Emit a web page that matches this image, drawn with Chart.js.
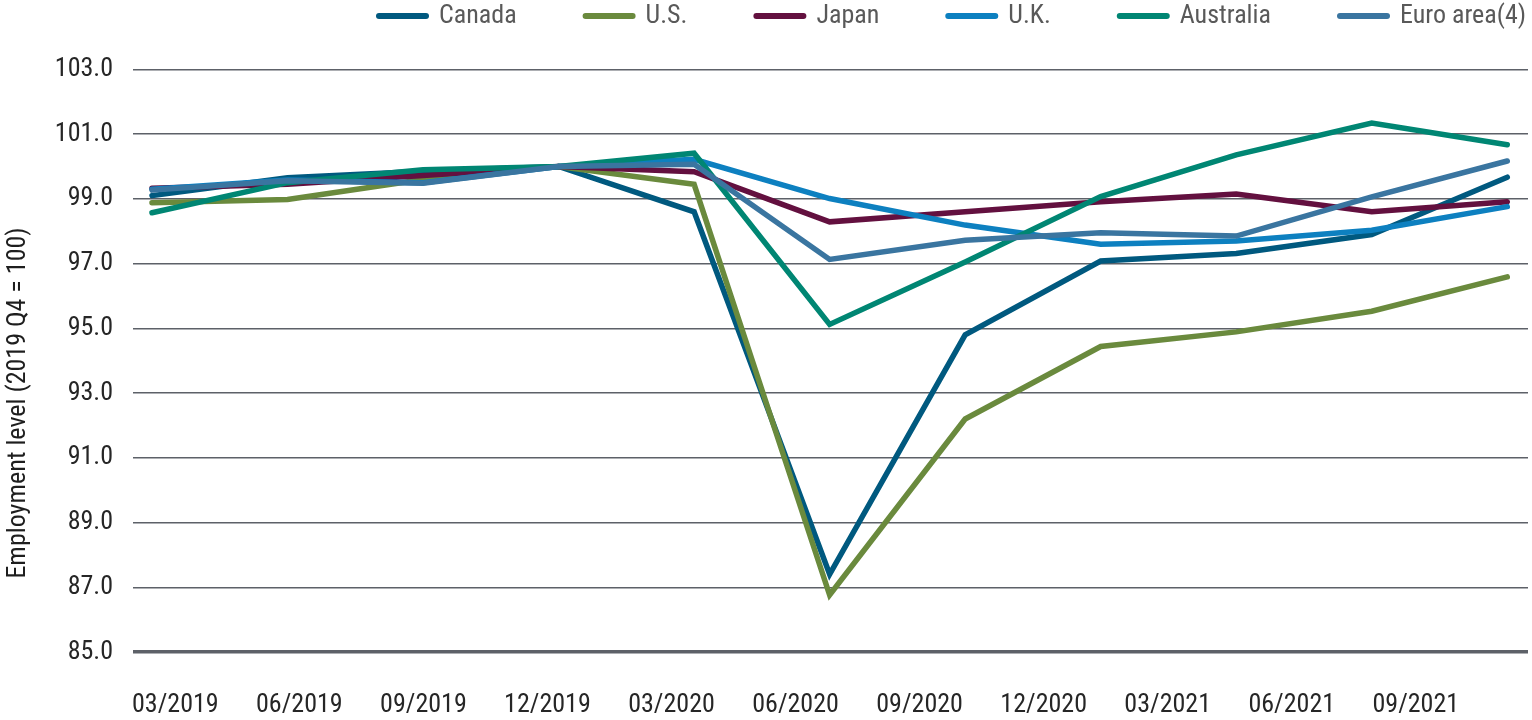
<!DOCTYPE html>
<html>
<head>
<meta charset="utf-8">
<script src="https://cdn.jsdelivr.net/npm/chart.js@4.4.1/dist/chart.umd.min.js"></script>
<style>
  html, body { margin: 0; padding: 0; background: #ffffff; }
  #wrap { width: 1532px; height: 720px; }
</style>
</head>
<body>
<div id="wrap"><canvas id="c" width="1532" height="720"></canvas></div>
<script>
// ---- data ----
const quarters = ['03/2019','06/2019','09/2019','12/2019','03/2020','06/2020','09/2020','12/2020','03/2021','06/2021','09/2021'];
const xTickLabels = ['03/2019','06/2019','09/2019','12/2019','03/2020','06/2020','09/2020','12/2020','03/2021','06/2021','09/2021'];
const yTicks = [85, 87, 89, 91, 93, 95, 97, 99, 101, 103];

const canada    = [99.10, 99.65, 99.85, 100.0, 98.60, 87.40, 94.80, 97.08, 97.31, 97.90, 99.67];
const us        = [98.88, 98.98, 99.60, 100.0, 99.45, 86.76, 92.20, 94.44, 94.89, 95.53, 96.59];
const japan     = [99.33, 99.45, 99.72, 100.0, 99.84, 98.29, 98.60, 98.91, 99.15, 98.60, 98.91];
const uk        = [99.30, 99.58, 99.50, 100.0, 100.22, 99.01, 98.19, 97.60, 97.70, 98.03, 98.76];
const australia = [98.57, 99.50, 99.90, 100.0, 100.41, 95.12, 97.05, 99.07, 100.36, 101.34, 100.67];
const euroArea  = [99.27, 99.56, 99.48, 100.0, 100.07, 97.13, 97.72, 97.95, 97.85, 99.06, 100.17];

const seriesNames = ['Canada', 'U.S.', 'Japan', 'U.K.', 'Australia', 'Euro area(4)'];
const yTitle = 'Employment level (2019 Q4 = 100)';

// ---- styling ----
const FONT = "'Roboto Condensed', 'DejaVu Sans Condensed', 'Liberation Sans Narrow', sans-serif";
const FS = 26;
const colors = ['#00597f', '#6a8a3d', '#63103f', '#0d80c0', '#008673', '#3a75a0'];
const drawOrder = [6, 5, 4, 3, 2, 1];
const allSeries = [canada, us, japan, uk, australia, euroArea];

const X_MIN = -0.1402, X_MAX = 10.153;
const TICK_START = 0.172, TICK_STEP = 0.9153;

const datasets = allSeries.map((vals, k) => ({
  label: seriesNames[k],
  data: vals.map((v, i) => ({ x: i, y: v, q: quarters[i] })),
  borderColor: colors[k],
  backgroundColor: colors[k],
  borderWidth: 5.5,
  borderCapStyle: 'round',
  borderJoinStyle: 'miter',
  pointRadius: 0,
  pointHoverRadius: 0,
  tension: 0,
  fill: false,
  order: drawOrder[k]
}));

const legendShift = {
  id: 'legendShift',
  afterLayout(chart) {
    const lg = chart.legend;
    if (!lg) return;
    const p = lg.options.labels.padding;
    lg.left = 379 - p;
    lg.right = 1800;
    lg.top = 16 - FS / 2 - p;
  }
};

const yTitlePlugin = {
  id: 'yTitlePlugin',
  afterDraw(chart) {
    const ctx = chart.ctx;
    ctx.save();
    ctx.translate(18, 403);
    ctx.rotate(-Math.PI / 2);
    ctx.font = FS + "px " + FONT;
    ctx.fillStyle = '#1e1e1e';
    ctx.textAlign = 'center';
    ctx.textBaseline = 'middle';
    ctx.fillText(yTitle, 0, 0);
    ctx.restore();
  }
};

new Chart(document.getElementById('c'), {
  type: 'line',
  data: { datasets },
  plugins: [legendShift, yTitlePlugin],
  options: {
    responsive: false,
    animation: false,
    devicePixelRatio: 1,
    layout: { padding: { left: 0, right: 4, top: 0, bottom: 0 } },
    plugins: {
      tooltip: { enabled: false },
      legend: {
        display: true,
        position: 'top',
        align: 'start',
        maxHeight: 40,
        labels: {
          usePointStyle: true,
          pointStyle: 'line',
          pointStyleWidth: 47,
          boxHeight: 6,
          padding: 69,
          color: '#595959',
          font: { family: FONT, size: FS },
          generateLabels(chart) {
            const items = Chart.defaults.plugins.legend.labels.generateLabels(chart);
            items.forEach(it => { it.lineWidth = 6; it.lineCap = 'round'; it.pointStyle = 'line'; });
            return items.sort((a, b) => a.datasetIndex - b.datasetIndex);
          }
        }
      }
    },
    scales: {
      x: {
        type: 'linear',
        position: 'bottom',
        min: X_MIN,
        max: X_MAX,
        afterBuildTicks(s) { s.ticks = xTickLabels.map((_, i) => ({ value: TICK_START + i * TICK_STEP })); },
        afterFit(s) { s.height = 68; },
        grid: { display: false, drawTicks: false },
        border: { display: false },
        ticks: {
          autoSkip: false,
          maxRotation: 0,
          minRotation: 0,
          padding: 37.9,
          color: '#262626',
          font: { family: FONT, size: FS },
          callback: (v, i) => xTickLabels[i]
        }
      },
      xpad: {
        type: 'linear',
        position: 'top',
        display: true,
        grid: { display: false, drawTicks: false },
        border: { display: false },
        ticks: { display: false },
        afterFit(s) { s.height = 29.4; }
      },
      y: {
        type: 'linear',
        min: 85,
        max: 103,
        afterBuildTicks(s) { s.ticks = yTicks.map(v => ({ value: v })); },
        afterFit(s) { s.width = 133; },
        grid: {
          drawTicks: false,
          color: '#5d6168',
          lineWidth: (c) => (c.tick && c.tick.value === 85 ? 3.5 : 1.5)
        },
        border: { display: false },
        ticks: {
          padding: 20,
          color: '#262626',
          font: { family: FONT, size: FS },
          callback: (v) => Number(v).toFixed(1)
        }
      }
    }
  }
});
</script>
</body>
</html>
